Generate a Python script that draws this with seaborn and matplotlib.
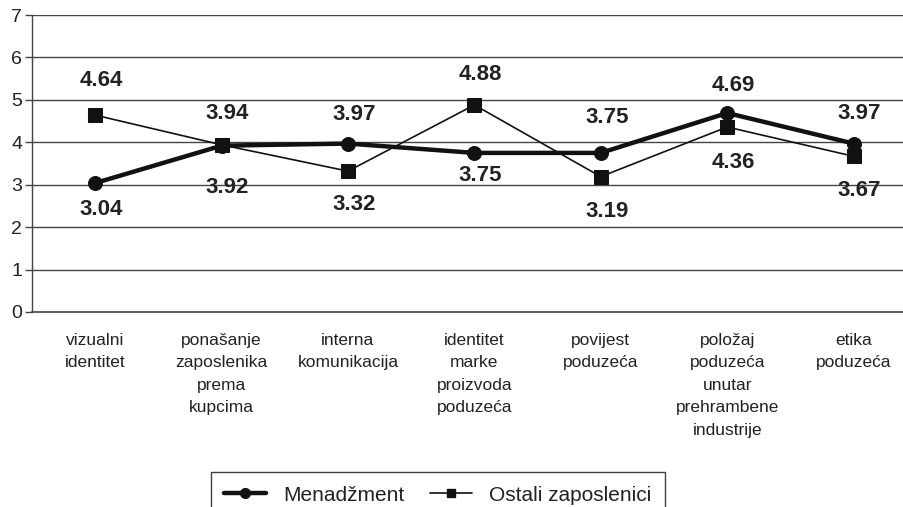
import matplotlib
matplotlib.use("Agg")
import matplotlib.pyplot as plt
import seaborn as sns
import pandas as pd
import numpy as np
from matplotlib.lines import Line2D

categories = ["vizualni\nidentitet",
              "ponašanje\nzaposlenika\nprema\nkupcima",
              "interna\nkomunikacija",
              "identitet\nmarke\nproizvoda\npoduzeća",
              "povijest\npoduzeća",
              "položaj\npoduzeća\nunutar\nprehrambene\nindustrije",
              "etika\npoduzeća"]
menadzment = [3.04, 3.92, 3.97, 3.75, 3.75, 4.69, 3.97]
ostali = [4.64, 3.94, 3.32, 4.88, 3.19, 4.36, 3.67]
series_names = ["Menadžment", "Ostali zaposlenici"]
y_ticks = [0, 1, 2, 3, 4, 5, 6, 7]

# label vertical offsets (pixels, positive = up)
men_off = [-26, -42, 29, -23, 35, 28, 30]
ost_off = [35, 31, -33, 30, -35, -35, -34]

sns.set_theme(style="white")
plt.rcParams['font.family'] = ['Liberation Sans', 'DejaVu Sans']

df = pd.DataFrame({
    "x": list(range(len(categories))) * 2,
    "value": menadzment + ostali,
    "series": [series_names[0]] * len(categories) + [series_names[1]] * len(categories),
})

fig = plt.figure(figsize=(9.04, 5.07), dpi=100)
left = 32 / 904
width = 126.4 * 7 / 904
bottom = 1 - 312 / 507
height = 297 / 507
ax = fig.add_axes([left, bottom, width, height])

grid_c = "#444444"
for yv in y_ticks[1:]:
    ax.axhline(yv, color=grid_c, lw=1.0, zorder=0)

sns.lineplot(data=df[df.series == series_names[1]], x="x", y="value", ax=ax,
             color="#111111", lw=1.2, marker="s", markersize=10,
             markeredgecolor="#111111", legend=False, zorder=3)
sns.lineplot(data=df[df.series == series_names[0]], x="x", y="value", ax=ax,
             color="#111111", lw=3.2, marker="o", markersize=10,
             markeredgecolor="#111111", legend=False, zorder=4)

for i, (m, o) in enumerate(zip(menadzment, ostali)):
    ax.annotate(f"{m:.2f}", (i, m), xytext=(6, men_off[i]), textcoords="offset pixels",
                ha="center", va="center", fontsize=16, fontweight="bold", color="#222222")
    ax.annotate(f"{o:.2f}", (i, o), xytext=(6, ost_off[i]), textcoords="offset pixels",
                ha="center", va="center", fontsize=16, fontweight="bold", color="#222222")

ax.set_xlim(-0.5, len(categories) - 0.5)
ax.set_ylim(0, 7)
ax.set_yticks(y_ticks)
ax.set_yticklabels([str(v) for v in y_ticks], fontsize=14, color="#222222")
ax.set_xticks(range(len(categories)))
ax.set_xticklabels(categories, fontsize=12.5, color="#222222", linespacing=1.62, va="top")
ax.set_xticks(np.arange(-0.5, len(categories), 1.0), minor=True)
ax.tick_params(axis="x", which="major", length=0, pad=15)
ax.tick_params(axis="x", which="minor", length=6, width=1, color=grid_c, direction="out")
ax.tick_params(axis="y", length=5, width=1, color=grid_c, direction="out", pad=2, left=True)
ax.set_xlabel("")
ax.set_ylabel("")
for s in ["top", "right"]:
    ax.spines[s].set_visible(False)
ax.spines["left"].set_color(grid_c)
ax.spines["bottom"].set_color(grid_c)
ax.spines["left"].set_linewidth(1.0)
ax.spines["bottom"].set_linewidth(1.2)

handles = [Line2D([0], [0], color="#111111", lw=3.2, marker="o", markersize=7),
           Line2D([0], [0], color="#111111", lw=1.2, marker="s", markersize=6)]
leg = fig.legend(handles, series_names, loc="upper center",
                 bbox_to_anchor=(438 / 904, 1 - 472 / 507), ncol=2, frameon=True,
                 fancybox=False, edgecolor="#111111", fontsize=15, handlelength=2.0,
                 columnspacing=1.2, borderpad=0.65, handletextpad=0.85, borderaxespad=0)
leg.get_frame().set_linewidth(1.0)
for t in leg.get_texts():
    t.set_color("#222222")

fig.savefig("out.png", dpi=100)
